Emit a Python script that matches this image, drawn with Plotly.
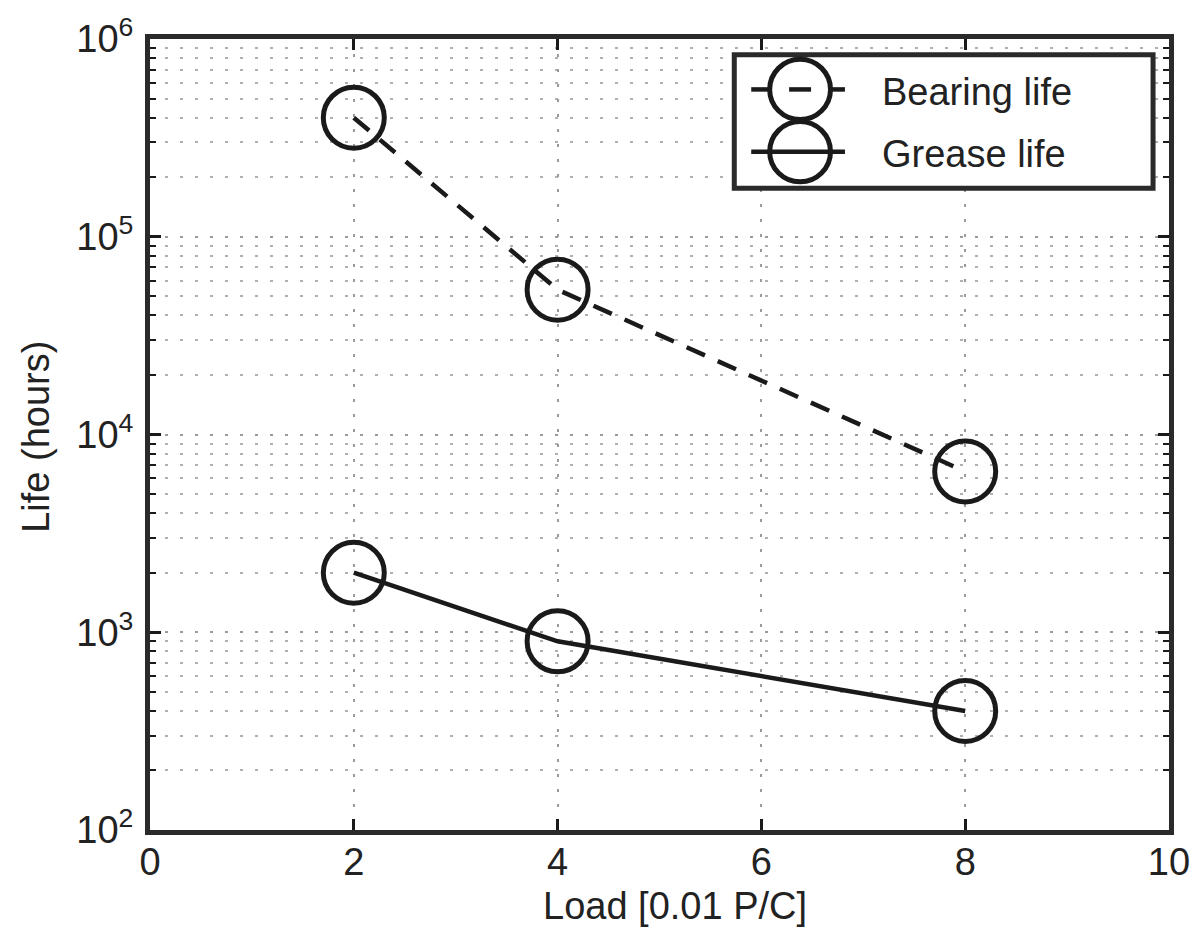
import plotly.graph_objects as go

# ---- data ----
load = [2, 4, 8]
bearing_life = [4.0e5, 5.4e4, 6.5e3]
grease_life = [2000, 900, 400]
x_ticks = [0, 2, 4, 6, 8, 10]
y_exponents = [2, 3, 4, 5, 6]
series_names = ["Bearing life", "Grease life"]

FONT = "Liberation Sans, Arial, Helvetica, sans-serif"
TXT = "#222222"
INK = "#1a1a1a"
GRID = "#9a9a9a"

# plot area in pixels
L, R, T, B = 150, 1172, 30, 830
W, H = 1202, 931


def px(x):
    return (x - L) / (R - L)


def py(y):
    return (B - y) / (B - T)


fig = go.Figure()
fig.add_trace(go.Scatter(
    x=load, y=bearing_life, name=series_names[0], mode="lines+markers",
    line=dict(color=INK, width=4.5, dash="20px,14px"),
    marker=dict(symbol="circle-open", size=61, color=INK, line=dict(width=5, color=INK)),
    showlegend=False,
))
fig.add_trace(go.Scatter(
    x=load, y=grease_life, name=series_names[1], mode="lines+markers",
    line=dict(color=INK, width=4.5),
    marker=dict(symbol="circle-open", size=61, color=INK, line=dict(width=5, color=INK)),
    showlegend=False,
))

minor_vals = [k * 10 ** d for d in range(y_exponents[0], y_exponents[-1]) for k in range(2, 10)]

fig.update_xaxes(
    range=[0, 10], tickvals=x_ticks, ticktext=[str(v) for v in x_ticks],
    ticks="inside", ticklen=11, tickwidth=3, tickcolor=INK,
    showline=True, linewidth=5, linecolor="#2a2a2a", mirror="ticks",
    showgrid=True, gridcolor=GRID, gridwidth=2, griddash="3px,12px",
    zeroline=False, tickfont=dict(family=FONT, size=38, color=TXT),
    ticklabelstandoff=-6,
)
fig.update_yaxes(
    type="log", range=[2, 6],
    tickvals=[10 ** e for e in y_exponents],
    ticktext=["10<sup>%d</sup>" % e for e in y_exponents],
    ticks="inside", ticklen=11, tickwidth=3, tickcolor=INK,
    showline=True, linewidth=5, linecolor="#2a2a2a", mirror="ticks",
    showgrid=True, gridcolor=GRID, gridwidth=2, griddash="3px,12px",
    zeroline=False, tickfont=dict(family=FONT, size=38, color=TXT),
    minor=dict(tickmode="array", tickvals=minor_vals, ticks="inside", ticklen=6,
               tickwidth=2, tickcolor=INK, showgrid=True, gridcolor="#b0b0b0",
               gridwidth=2, griddash="3px,12px"),
    ticklabelstandoff=4,
)

# ---- legend drawn with shapes ----
shapes = []
shapes.append(dict(type="rect", xref="paper", yref="paper",
                   x0=px(736), x1=px(1156), y0=py(181), y1=py(46),
                   line=dict(color="#2a2a2a", width=5), fillcolor="white", layer="above"))
# row 1: dashed line stubs
for a, b in [(753, 772), (791, 813), (832, 847)]:
    shapes.append(dict(type="line", xref="paper", yref="paper",
                       x0=px(a), x1=px(b), y0=py(81), y1=py(81),
                       line=dict(color=INK, width=4.5)))
# row 2: solid line
shapes.append(dict(type="line", xref="paper", yref="paper",
                   x0=px(753), x1=px(847), y0=py(144), y1=py(144),
                   line=dict(color=INK, width=4.5)))
for cy in (81, 144):
    shapes.append(dict(type="circle", xref="paper", yref="paper",
                       x0=px(802 - 30.5), x1=px(802 + 30.5),
                       y0=py(cy + 30.5), y1=py(cy - 30.5),
                       line=dict(color=INK, width=5)))

annotations = []
for name, cy in zip(series_names, (84, 146)):
    annotations.append(dict(text=name, xref="paper", yref="paper", x=px(882), y=py(cy),
                            xanchor="left", yanchor="middle", showarrow=False,
                            font=dict(family=FONT, size=38, color=TXT)))
annotations.append(dict(text="Load [0.01 P/C]", xref="paper", yref="paper",
                        x=px(677), y=py(907), xanchor="center", yanchor="middle",
                        showarrow=False, font=dict(family=FONT, size=38, color=TXT)))
annotations.append(dict(text="Life (hours)", xref="paper", yref="paper",
                        x=px(36), y=py(432), xanchor="center", yanchor="middle",
                        textangle=-90, showarrow=False,
                        font=dict(family=FONT, size=38, color=TXT)))

fig.update_layout(
    width=W, height=H,
    margin=dict(l=L, r=W - R, t=T, b=H - B),
    paper_bgcolor="white", plot_bgcolor="white",
    shapes=shapes, annotations=annotations,
    showlegend=False,
)

fig.write_html(
    "out.html",
    config={"displayModeBar": False},
    post_script="document.body.style.margin='0';document.body.style.overflow='hidden';",
)
